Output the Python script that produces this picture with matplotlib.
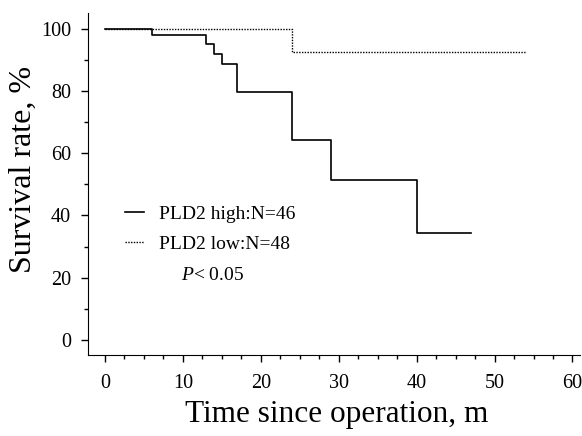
import numpy as np
import matplotlib.pyplot as plt
from matplotlib.ticker import MultipleLocator

plt.rcParams['font.family'] = ['Liberation Serif', 'DejaVu Serif']
plt.rcParams['mathtext.fontset'] = 'custom'
plt.rcParams['mathtext.it'] = 'Liberation Serif:italic'
plt.rcParams['mathtext.rm'] = 'Liberation Serif'

# Kaplan-Meier steps
high_t = [0, 6, 13, 14, 15, 17, 24, 29, 40, 47]
high_s = [100, 97.8, 95.0, 92.0, 88.8, 79.7, 64.2, 51.5, 34.2, 34.2]
low_t = [0, 24, 54]
low_s = [100, 92.5, 92.5]

fig = plt.figure(figsize=(5.82, 4.36), dpi=100)
ax = fig.add_axes([0.151, 0.186, 0.846, 0.784])

ax.step(high_t, high_s, where='post', color='black', lw=1.2, label='PLD2 high:N=46')
ax.step(low_t, low_s, where='post', color='black', lw=1.0, linestyle=(0, (1, 1)),
        label='PLD2 low:N=48')

ax.set_xlim(-2.2, 61)
ax.set_ylim(-4.8, 105)
ax.xaxis.set_major_locator(MultipleLocator(10))
ax.xaxis.set_minor_locator(MultipleLocator(2.5))
ax.yaxis.set_major_locator(MultipleLocator(20))
ax.yaxis.set_minor_locator(MultipleLocator(10))
ax.tick_params(which='major', length=5, width=1, labelsize=14.5)
ax.tick_params(axis='x', which='major', pad=9)
ax.tick_params(axis='y', which='major', pad=7)
ax.tick_params(which='minor', length=3, width=1)
ax.spines['top'].set_visible(False)
ax.spines['right'].set_visible(False)

ax.set_xlabel('Time since operation, m', fontsize=22.5)
ax.xaxis.set_label_coords(0.505, -0.133)
ax.set_ylabel('Survival rate, %', fontsize=23)
ax.yaxis.set_label_coords(-0.102, 0.544)

leg = ax.legend(loc='upper left', bbox_to_anchor=(0.075, 0.438), frameon=False,
                fontsize=14, handlelength=1.0, handletextpad=0.75, labelspacing=0.65,
                borderpad=0, borderaxespad=0)
ax.text(0.19, 0.232, r'$\it{P}$< 0.05', transform=ax.transAxes, fontsize=14, va='center')

fig.savefig('out.png', dpi=100)
